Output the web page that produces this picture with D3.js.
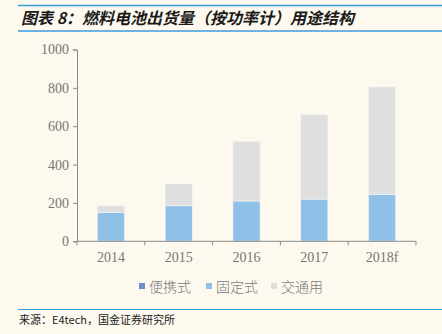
<!DOCTYPE html>
<html><head><meta charset="utf-8">
<script src="https://cdn.jsdelivr.net/npm/d3@7"></script>
<style>
body{margin:0;background:#fdf9ef;}
svg{display:block;}
</style></head>
<body>
<svg id="c" width="442" height="334"></svg>
<script>
const categories = ["2014","2015","2016","2017","2018f"];
const seriesNames = ["便携式","固定式","交通用"];
const portable = [1, 1, 1, 1, 1];
const stationary = [149, 184, 209, 219, 242];
const transport = [35, 115, 311, 440, 562];
const yTicks = [0,200,400,600,800,1000];
const colors = ["#6e8fc7","#8fc1e8","#dfdfdf"];

const svg = d3.select("#c");
svg.append("rect").attr("width",442).attr("height",334).attr("fill","#fdf9ef");

// header lines + title
svg.append("line").attr("x1",18).attr("x2",442).attr("y1",5.5).attr("y2",5.5).attr("stroke","#3a9ddc").attr("stroke-width",1.5);
svg.append("line").attr("x1",18).attr("x2",442).attr("y1",31).attr("y2",31).attr("stroke","#3a9ddc").attr("stroke-width",1.5);
svg.append("text").attr("x",21).attr("y",24).text("图表 8：燃料电池出货量（按功率计）用途结构")
  .attr("font-family","Noto Sans CJK SC").attr("font-weight","bold").attr("font-style","italic")
  .attr("font-size",16).attr("fill","#1a1a1a");

const x = d3.scaleBand().domain(categories).range([77,416]).paddingInner(0.6).paddingOuter(0.3);
const y = d3.scaleLinear().domain([0,1000]).range([241.3,49.5]);

const data = categories.map((c,i)=>({cat:c, v:[portable[i], stationary[i], transport[i]]}));
const stack = d3.stack().keys([0,1,2]).value((d,k)=>d.v[k]);
const layers = stack(data);

const g = svg.append("g");
layers.forEach((layer,k)=>{
  g.selectAll(null).data(layer).enter().append("rect")
    .attr("x",d=>x(d.data.cat))
    .attr("width",x.bandwidth())
    .attr("y",d=>y(d[1]))
    .attr("height",d=>y(d[0])-y(d[1]))
    .attr("fill",colors[k])
    .attr("stroke", k===0? "none":"#f4f4f4").attr("stroke-width",0.6);
});

// y axis
const yAxis = d3.axisLeft(y).tickValues(yTicks).tickFormat(d3.format("d")).tickSize(4).tickPadding(4);
const ya = svg.append("g").attr("transform","translate(77,0)").call(yAxis);
ya.select(".domain").attr("stroke","#8a8a8a");
ya.selectAll(".tick line").attr("stroke","#8a8a8a");
ya.selectAll("text").attr("font-family","Liberation Serif").attr("font-size",14).attr("fill","#777");

// x axis with ticks at band boundaries
const xa = svg.append("g").attr("transform","translate(0,241.3)");
xa.append("line").attr("x1",77).attr("x2",416).attr("stroke","#8a8a8a");
const bounds = d3.range(categories.length+1).map(i=>77+i*(339/categories.length));
xa.selectAll(null).data(bounds).enter().append("line")
  .attr("x1",d=>d).attr("x2",d=>d).attr("y1",0).attr("y2",4).attr("stroke","#8a8a8a");
xa.selectAll(null).data(categories).enter().append("text")
  .attr("x",d=>x(d)+x.bandwidth()/2).attr("y",21).attr("text-anchor","middle")
  .text(d=>d).attr("font-family","Liberation Serif").attr("font-size",14).attr("fill","#777");

// legend
const legX = [139, 206, 271];
const lg = svg.append("g");
seriesNames.forEach((n,i)=>{
  lg.append("rect").attr("x",legX[i]).attr("y",283).attr("width",6).attr("height",6).attr("fill",colors[i]);
  lg.append("text").attr("x",legX[i]+10).attr("y",292).text(n)
    .attr("font-family","Noto Sans CJK SC").attr("font-weight",300).attr("font-size",14).attr("fill","#7a7a7a");
});

// footer
svg.append("line").attr("x1",18).attr("x2",442).attr("y1",309.5).attr("y2",309.5).attr("stroke","#3a9ddc").attr("stroke-width",1.2);
svg.append("text").attr("x",19).attr("y",324).text("来源：E4tech，国金证券研究所")
  .attr("font-family","Noto Sans CJK SC").attr("font-size",11).attr("fill","#222");
</script>
</body></html>
